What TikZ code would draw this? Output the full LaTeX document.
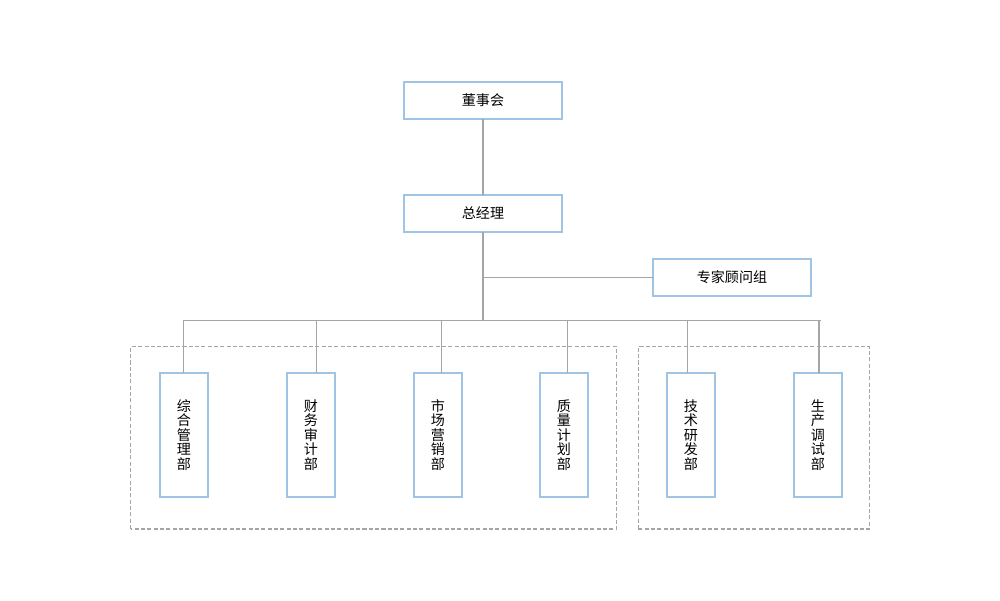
\documentclass[tikz,border=0pt]{standalone}
\usepackage{fontspec}
\newfontfamily\cjk{Noto Sans CJK SC}
\usepackage{tikz}
\usetikzlibrary{calc,positioning}

\definecolor{boxblue}{RGB}{160,196,228}
\definecolor{linegray}{RGB}{165,165,165}

\begin{document}
\begin{tikzpicture}[
    box/.style={draw=boxblue,line width=1.1pt,fill=white,minimum width=3.16cm,
      minimum height=0.74cm,inner sep=0pt,outer sep=0pt,font=\cjk\fontsize{8}{9}\selectfont},
    vbox/.style={draw=boxblue,line width=1.1pt,fill=white,minimum width=0.96cm,
      minimum height=2.48cm,inner sep=0pt,outer sep=0pt,align=center,
      font=\cjk\fontsize{8}{8.3}\selectfont},
    link/.style={draw=linegray,line width=0.6pt},
    grp/.style={draw=linegray,line width=0.6pt,dash pattern=on 2.3pt off 1.3pt}]

  \useasboundingbox (0,0) rectangle (20,12);

  % dashed groups
  \draw[grp] (2.614,1.42) rectangle (12.334,5.066);
  \draw[grp] (12.766,1.42) rectangle (17.386,5.066);

  % top level
  \node[box] (board) at (9.66,9.99) {董事会};
  \node[box] (gm) at (9.66,7.73) {总经理};
  \node[box] (expert) at (14.64,6.45) {专家顾问组};

  % departments
  \node[vbox] (d1) at (3.68,3.30) {综\\合\\管\\理\\部};
  \node[vbox] (d2) at (6.22,3.30) {财\\务\\审\\计\\部};
  \node[vbox] (d3) at (8.76,3.30) {市\\场\\营\\销\\部};
  \node[vbox] (d4) at (11.28,3.30) {质\\量\\计\\划\\部};
  \node[vbox] (d5) at (13.82,3.30) {技\\术\\研\\发\\部};
  \node[vbox] (d6) at (16.36,3.30) {生\\产\\调\\试\\部};

  % connectors
  \coordinate (bus) at (9.66,5.594);
  \coordinate (busL) at (3.666,5.594);
  \coordinate (busR) at (16.414,5.594);
  \path[link] (board) -- (gm);
  \path[link] (gm) -- (bus);
  \path[link] (busL) -- (busR);
  \path[link] (expert.west) -- (expert.west -| gm);
  \path[link] ([xshift=-0.014cm]d1.north) -- ([xshift=-0.014cm]d1.north |- bus);
  \path[link] ([xshift=0.106cm]d2.north) -- ([xshift=0.106cm]d2.north |- bus);
  \path[link] ([xshift=0.066cm]d3.north) -- ([xshift=0.066cm]d3.north |- bus);
  \path[link] ([xshift=0.066cm]d4.north) -- ([xshift=0.066cm]d4.north |- bus);
  \path[link] ([xshift=-0.074cm]d5.north) -- ([xshift=-0.074cm]d5.north |- bus);
  \path[link] ([xshift=0.02cm]d6.north) -- ([xshift=0.02cm]d6.north |- bus);

\end{tikzpicture}
\end{document}
